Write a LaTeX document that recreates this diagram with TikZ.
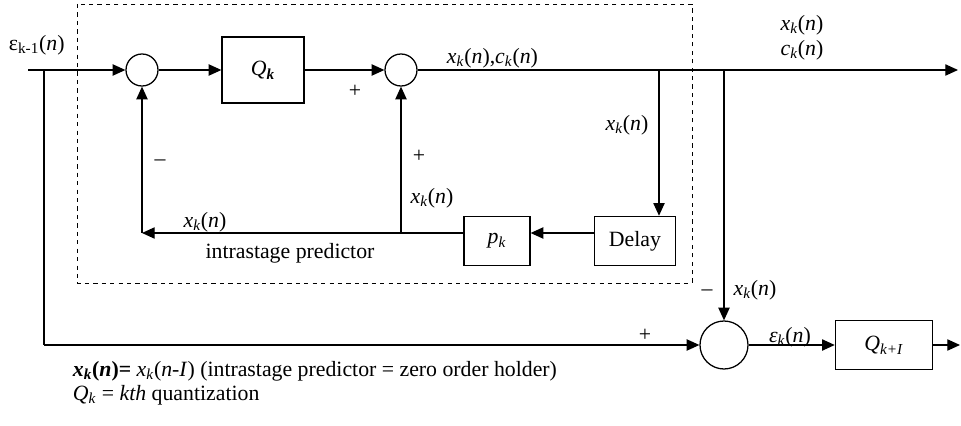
\documentclass[tikz,border=0pt]{standalone}
\usepackage{fontspec}
\setmainfont{Liberation Serif}
\usetikzlibrary{arrows.meta}

\newcommand{\sg}[2]{\textit{#1}\textsubscript{\textit{#2}}(\textit{n})}

\tikzset{
	sumnode/.style={draw, circle, line width=0.9pt, minimum size=0.8cm, inner sep=0pt},
	block/.style={draw, rectangle, line width=0.9pt, inner sep=0pt},
	sig/.style={line width=0.9pt},
	tip/.style={sig, -{Triangle[length=9pt, width=8pt]}}
}

\begin{document}
\begin{tikzpicture}[x=0.025cm, y=-0.025cm, font=\fontsize{15.5}{18}\selectfont]
	\useasboundingbox (0,0) rectangle (961,426);
	
	\draw[dashed, line width=0.7pt] (77,4) rectangle (692,283);
	
	\coordinate (in) at (28,70);
	\coordinate (j1) at (44,70);
	\node[sumnode] (s1) at (142,70) {};
	\node[block, minimum width=2.05cm, minimum height=1.65cm] (qk) at (263,70) {\textit{Q}\textsubscript{\textbf{\textit{k}}}};
	\node[sumnode] (s2) at (401,70) {};
	\coordinate (b1) at (659,70);
	\coordinate (b2) at (724,70);
	\coordinate (out) at (958,70);
	
	\node[block, minimum width=2.03cm, minimum height=1.23cm] (delay) at (635,241) {Delay};
	\node[block, minimum width=1.65cm, minimum height=1.23cm] (pk) at (497,241) {\textit{p}\textsubscript{\textit{k}}};
	\coordinate (fb) at (142,233);
	
	\coordinate (j2) at (44,345);
	\node[sumnode, minimum size=1.2cm] (s3) at (724,345) {};
	\node[block, minimum width=2.43cm, minimum height=1.23cm] (qk1) at (884,345) {\textit{Q}\textsubscript{\textit{k+I}}};
	\coordinate (out2) at (960,345);
	
	\draw[tip] (in) -- (s1);
	\draw[tip] (s1) -- (qk);
	\draw[tip] (qk) -- (s2);
	\draw[tip] (s2) -- (out);
	\draw[tip] (b1) -- (b1 |- delay.north);
	\draw[tip] (delay.west |- fb) -- (pk.east |- fb);
	\draw[tip] (pk.west |- fb) -- (fb);
	\draw[tip] (fb) -- (s1);
	\draw[tip] (s2 |- fb) -- (s2);
	\draw[sig] (j1) -- (j2);
	\draw[tip] (j2) -- (s3);
	\draw[tip] (b2) -- (s3);
	\draw[tip] (s3) -- (qk1);
	\draw[tip] (qk1) -- (out2);
	
	
	\node[anchor=west] at (4,45) {ε\textsubscript{k-1}(\textit{n})};
	\node at (355,91) {+};
	\node at (160,163) {--};
	\node[anchor=west] at (442,58) {\sg{x}{k},\sg{c}{k}};
	\node at (419,156) {+};
	\node at (432,198) {\sg{x}{k}};
	\node at (627,125) {\sg{x}{k}};
	\node at (205,222) {\sg{x}{k}};
	\node at (290,253) {intrastage predictor};
	\node at (802,25) {\sg{x}{k}};
	\node at (802,50) {\sg{c}{k}};
	\node at (707,293) {--};
	\node at (755,290) {\sg{x}{k}};
	\node at (645,335) {+};
	\node at (790,337) {\sg{\char"03B5}{k}};
	
	\node[anchor=west, align=left, font=\fontsize{15.5}{17}\selectfont] (note) at (68,383) {\textbf{\textit{x}\textsubscript{\textit{k}}(\textit{n})=} \textit{x}\textsubscript{\textit{k}}(\textit{n-I}) (intrastage predictor = zero order holder)\\\textit{Q}\textsubscript{\textit{k}} = \textit{kth} quantization};
	
\end{tikzpicture}
\end{document}
